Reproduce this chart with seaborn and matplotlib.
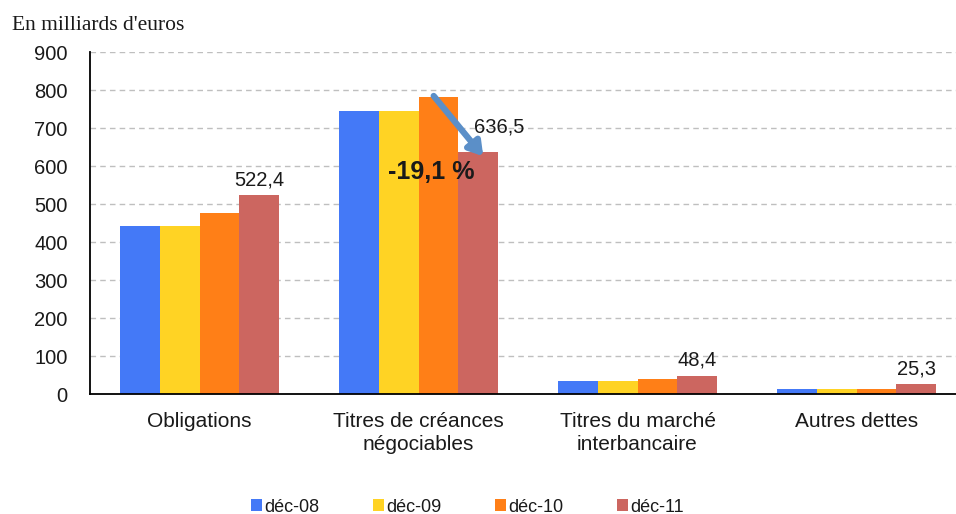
import matplotlib
matplotlib.use("Agg")
import matplotlib.pyplot as plt
import seaborn as sns
import pandas as pd

categories = ["Obligations", "Titres de créances\nnégociables", "Titres du marché\ninterbancaire", "Autres dettes"]
periods = ["déc-08", "déc-09", "déc-10", "déc-11"]
v_dec08 = [443, 745, 34, 13]
v_dec09 = [443, 745, 34, 13]
v_dec10 = [477, 782, 39, 14]
v_dec11 = [522.4, 636.5, 48.4, 25.3]
labels_dec11 = ["522,4", "636,5", "48,4", "25,3"]
yticks = [0, 100, 200, 300, 400, 500, 600, 700, 800, 900]
colors = ["#4479F7", "#FFD324", "#FF7F17", "#CC6660"]

rows = []
for p, vals in zip(periods, [v_dec08, v_dec09, v_dec10, v_dec11]):
    for c, v in zip(categories, vals):
        rows.append({"cat": c, "period": p, "value": v})
df = pd.DataFrame(rows)

sns.set_style("white")
plt.rcParams["font.family"] = ["Liberation Sans", "DejaVu Sans"]
TXT = "#1a1a1a"

W, H = 956, 514
fig = plt.figure(figsize=(W / 100, H / 100), dpi=100)
ax = fig.add_axes([90 / W, 1 - 394 / H, (956 - 90) / W, (394 - 52) / H])

sns.barplot(data=df, x="cat", y="value", hue="period", palette=colors,
            width=0.73, dodge=True, ax=ax, legend=True, saturation=1,
            edgecolor="none", linewidth=0)

ax.set_ylim(0, 900)
ax.set_xlim(-0.5, -0.5 + 866 / 219)
ax.set_yticks(yticks)
ax.set_yticklabels([str(t) for t in yticks], fontsize=14.5, color=TXT)
ax.tick_params(axis="y", length=0, pad=16)
ax.tick_params(axis="x", length=0, labelsize=15, pad=13, labelcolor=TXT)
ax.set_xticks(range(4))
ax.set_xticklabels(categories, linespacing=1.28)
ax.set_xticks([0.5, 1.5, 2.5], minor=True)
ax.tick_params(axis="x", which="minor", length=4, direction="inout", width=1.2)
ax.set_xlabel("")
ax.set_ylabel("")
ax.yaxis.grid(True, linestyle=(0, (4, 3)), color="#BFBFBF", linewidth=1)
ax.set_axisbelow(True)
for s in ["top", "right"]:
    ax.spines[s].set_visible(False)
for s in ["left", "bottom"]:
    ax.spines[s].set_color("black")
    ax.spines[s].set_linewidth(1.3)

# data labels for déc-11
bw = 0.73 / 4
for i, (v, lab) in enumerate(zip(v_dec11, labels_dec11)):
    x = i + 1.5 * bw
    if i == 1:
        ax.text(x - 0.02, v + 40, lab, ha="left", va="bottom", fontsize=14.5, color=TXT)
    else:
        ax.text(x, v + 15, lab, ha="center", va="bottom", fontsize=14.5, color=TXT)

# arrow and percentage
ax.annotate("", xy=(1 + 1.5 * bw + 0.03, 620), xytext=(1 + 0.5 * bw - 0.03, 790),
            arrowprops=dict(arrowstyle="-|>,head_length=0.8,head_width=0.5",
                            color="#5B8FC8", lw=4.5))
ax.text(1 + 0.06, 585, "-19,1 %", ha="center", va="center", fontsize=18,
        fontweight="bold", color=TXT)

fig.text(12 / W, 1 - 25 / H, "En milliards d'euros", fontsize=15.5,
         family=["Liberation Serif", "DejaVu Serif"], va="center", ha="left", color=TXT)

leg = ax.legend(loc="center", bbox_to_anchor=(0.436, 1 - (507 - 52) / (394 - 52)),
                ncol=4, frameon=False, fontsize=13, handlelength=0.6,
                handleheight=0.6, handletextpad=0.1, columnspacing=3.0,
                bbox_transform=ax.transAxes)
for t in leg.get_texts():
    t.set_color(TXT)

fig.savefig("out.png", dpi=100)
